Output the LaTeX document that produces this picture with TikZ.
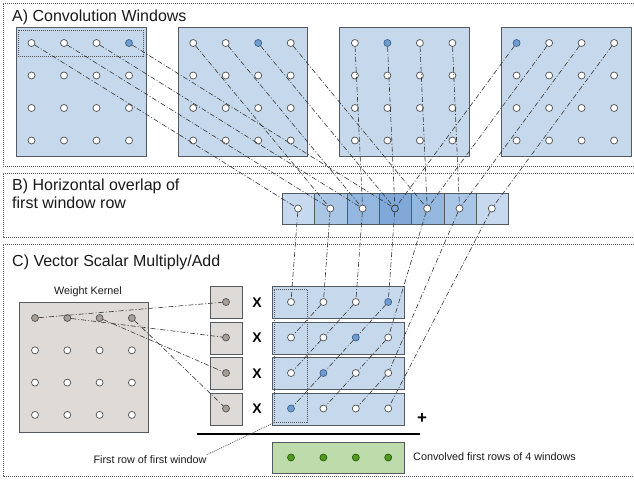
\documentclass[tikz,border=0pt]{standalone}
\usepackage{fontspec}
\setmainfont{Liberation Sans}
\definecolor{winfill}{HTML}{C6D9EC}
\definecolor{boxline}{HTML}{555A60}
\definecolor{dotline}{HTML}{505050}
\definecolor{bluedot}{HTML}{6F9DD2}
\definecolor{bluedotline}{HTML}{3E5F86}
\definecolor{kfill}{HTML}{DEDAD7}
\definecolor{graydot}{HTML}{A59F98}
\definecolor{greenfill}{HTML}{BDDBAB}
\definecolor{greendot}{HTML}{4E9A1C}
\definecolor{greendotline}{HTML}{2F5A12}
\definecolor{sA}{HTML}{C6D9EE}
\definecolor{sB}{HTML}{A9C6E6}
\definecolor{sC}{HTML}{93B7DF}
\definecolor{sD}{HTML}{80A9D9}
\definecolor{linkc}{HTML}{353535}
\definecolor{framec}{HTML}{555555}
\definecolor{txt}{HTML}{1A1A1A}
\begin{document}
\begin{tikzpicture}[x=1pt,y=-1pt,
  dot/.style={circle,draw=dotline,fill=white,line width=0.7pt,minimum size=7pt,inner sep=0pt},
  win/.style={draw=boxline,fill=winfill,line width=0.9pt,inner sep=0pt,anchor=north west},
  link/.style={draw=linkc,line width=0.6pt,dash pattern=on 5pt off 2pt on 1pt off 2pt},
  frame/.style={draw=framec,line width=0.7pt,dash pattern=on 1pt off 1pt},
  title/.style={font=\fontsize{16}{19}\selectfont,anchor=base west,inner sep=0pt,text=txt},
  small/.style={font=\fontsize{10.8}{13}\selectfont,inner sep=0pt,text=txt},
  op/.style={font=\bfseries\fontsize{14}{14}\selectfont,inner sep=0pt,text=black}
]
\useasboundingbox (0,0) rectangle (634,482);

% section frames
\draw[frame] (640,3) -- (3,3) -- (3,166) -- (640,166);
\draw[frame] (640,173) -- (3,173) -- (3,237) -- (640,237);
\draw[frame] (640,244) -- (3,244) -- (3,476) -- (640,476);

% titles
\node[title] (tA) at (12,21) {A) Convolution Windows};
\node[title] (tB1) at (12,190) {B) Horizontal overlap of};
\node[title] (tB2) at (12,208) {first window row};
\node[title] (tC) at (12,266) {C) Vector Scalar Multiply/Add};

% A: windows
\foreach \k in {0,...,3}{
  \pgfmathsetmacro\wx{16+161.7*\k}
  \node[win,minimum width=129.5pt,minimum height=129pt] (W\k) at (\wx,27) {};
  \foreach \i in {0,...,3}{
    \foreach \j in {0,...,3}{
      \pgfmathsetmacro\dx{\wx+15.5+32.5*\j}
      \pgfmathsetmacro\dy{43+32.5*\i}
      \ifnum\numexpr\i*10+\j+\k\relax=3
        \def\fc{bluedot}\def\dc{bluedotline}
      \else
        \def\fc{white}\def\dc{dotline}
      \fi
      \node[dot,fill=\fc,draw=\dc] (w\k-\i-\j) at (\dx,\dy) {};
    }
  }
}
\node[frame,anchor=north west,minimum width=125pt,minimum height=26pt,inner sep=0pt] (D1) at (18,30) {};

% B: strip
\foreach \m/\c in {0/sA,1/sB,2/sC,3/sD,4/sC,5/sB,6/sA}{
  \node[win,fill=\c,minimum width=32.3pt,minimum height=31pt] (S\m) at ({282+32.3*\m},193) {};
}
\foreach \m in {0,...,6}{
  \ifnum\m=3
    \def\fc{sD}\def\dc{black!80}
  \else
    \def\fc{white}\def\dc{dotline}
  \fi
  \node[dot,fill=\fc,draw=\dc] (s\m) at ({298+32.3*\m},208.5) {};
}

% C: kernel
\node[small] (kl) at (88,292) {Weight Kernel};
\node[win,fill=kfill,minimum width=129pt,minimum height=130pt] (K) at (19,302) {};
\foreach \i in {0,...,3}{
  \foreach \j in {0,...,3}{
    \ifnum\i=0 \def\fc{graydot}\else\def\fc{white}\fi
    \node[dot,fill=\fc] (k\i-\j) at ({35+32.3*\j},{318+32.3*\i}) {};
  }
}

% C: scalar boxes, x, rows
\foreach \i in {0,...,3}{
  \node[win,fill=kfill,minimum width=32pt,minimum height=32pt] (G\i) at (210,{286+35.5*\i}) {};
  \node[dot,fill=graydot] (g\i) at (226,{302+35.5*\i}) {};
  \node[op] (x\i) at (257,{302.5+35.5*\i}) {X};
  \node[win,minimum width=132pt,minimum height=32pt] (R\i) at (272,{286+35.5*\i}) {};
  \foreach \j in {0,...,3}{
    \ifnum\numexpr\i+\j\relax=3
      \def\fc{bluedot}\def\dc{bluedotline}
    \else
      \def\fc{white}\def\dc{dotline}
    \fi
    \node[dot,fill=\fc,draw=\dc] (r\i-\j) at ({291+32.4*\j},{302+35.5*\i}) {};
  }
}
\node[frame,anchor=north west,minimum width=33pt,minimum height=133pt,inner sep=0pt] (D2) at (274,289) {};

% sum line, plus, result
\coordinate (L1) at (197,434);
\coordinate (L2) at (420,434);
\draw[line width=1.8pt,black] (L1) -- (L2);
\node[op,font=\bfseries\fontsize{17}{17}\selectfont] (plus) at (422,419) {+};
\node[win,fill=greenfill,minimum width=132pt,minimum height=31pt] (GR) at (272,442) {};
\foreach \j in {0,...,3}{
  \node[dot,fill=greendot,draw=greendotline] (gr\j) at ({291+32.4*\j},457.5) {};
}
\node[small,anchor=west] (conv) at (413,457) {Convolved first rows of 4 windows};
\node[small] (first) at (150,460) {First row of first window};
\draw[frame] ([yshift=1pt]first.north east) -- (D2.south west);

% links A -> B
\foreach \k in {0,...,3}{
  \foreach \j in {0,...,3}{
    \pgfmathtruncatemacro\m{\k+\j}
    \draw[link] (w\k-0-\j) -- (s\m);
  }
}

% links B -> C
\draw[link] (s0) -- (r0-0);
\draw[link] (s1) -- (r0-1);
\draw[link] (r0-1) -- (r1-0);
\draw[link] (s2) -- (r0-2);
\draw[link] (r0-2) -- (r1-1);
\draw[link] (r1-1) -- (r2-0);
\draw[link] (s3) -- (r0-3);
\draw[link] (r0-3) -- (r1-2);
\draw[link] (r1-2) -- (r2-1);
\draw[link] (r2-1) -- (r3-0);
\draw[link] (s4) -- (r1-3);
\draw[link] (r1-3) -- (r2-2);
\draw[link] (r2-2) -- (r3-1);
\draw[link] (s5) -- (r2-3);
\draw[link] (r2-3) -- (r3-2);
\draw[link] (s6) -- (r3-3);

% kernel links
\foreach \j in {0,...,3}{
  \draw[link] (k0-\j) -- (g\j);
}
\end{tikzpicture}
\end{document}
